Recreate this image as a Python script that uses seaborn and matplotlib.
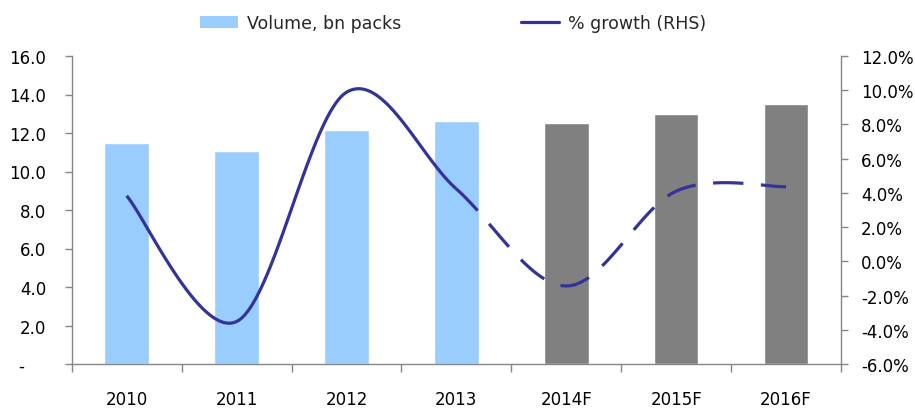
import numpy as np
import pandas as pd
import matplotlib
matplotlib.use("Agg")
import matplotlib.pyplot as plt
from matplotlib.patches import Patch
from matplotlib.lines import Line2D
import seaborn as sns

years = ["2010", "2011", "2012", "2013", "2014F", "2015F", "2016F"]
volume = [11.48, 11.06, 12.16, 12.62, 12.52, 12.99, 13.50]
growth = [3.83, -3.52, 9.88, 4.23, -1.44, 4.10, 4.36]
kind = ["Actual", "Actual", "Actual", "Actual", "Forecast", "Forecast", "Forecast"]
left_ticks = [0, 2, 4, 6, 8, 10, 12, 14, 16]
left_labels = ["-    ", "2.0", "4.0", "6.0", "8.0", "10.0", "12.0", "14.0", "16.0"]
right_ticks = [-6, -4, -2, 0, 2, 4, 6, 8, 10, 12]
right_labels = ["-6.0%", "-4.0%", "-2.0%", "0.0%", "2.0%", "4.0%", "6.0%", "8.0%", "10.0%", "12.0%"]

BLUE = "#99CCFF"
GREY = "#808080"
NAVY = "#333399"
SPINE = "#868686"
FS = 12

sns.set_theme(style="white")
plt.rcParams["font.family"] = ["DejaVu Sans"]
plt.rcParams["path.simplify"] = False

df = pd.DataFrame({"year": years, "volume": volume, "kind": kind})

fig = plt.figure(figsize=(9.15, 4.14), dpi=100)
L0, R0, B0, T0 = 71.7 / 915, 841 / 915, 1 - 365 / 414, 1 - 57 / 414
ax = fig.add_axes([L0, B0, R0 - L0, T0 - B0])

sns.barplot(data=df, x="year", y="volume", hue="kind",
            palette={"Actual": BLUE, "Forecast": GREY},
            dodge=False, width=0.405, legend=False, ax=ax, saturation=1)
ax.set_xlim(-0.5, 6.5)
ax.set_ylim(0, 16)
ax.set_yticks(left_ticks)
ax.set_yticklabels(left_labels)
ax.set_xlabel("")
ax.set_ylabel("")

# smoothed line (Catmull-Rom Bezier through the data points, like Excel's smoothing)
g = np.array(growth, dtype=float)
n = len(g)
P = np.column_stack([np.arange(n, dtype=float), g])
Pext = np.vstack([P[0], P, P[-1]])
T = Pext[2:] - Pext[:-2]
curve = []
for i in range(n - 1):
    c1 = P[i] + T[i] / 6
    c2 = P[i + 1] - T[i + 1] / 6
    t = np.linspace(0, 1, 40, endpoint=(i == n - 2))[:, None]
    b = ((1 - t) ** 3) * P[i] + 3 * ((1 - t) ** 2) * t * c1 + 3 * (1 - t) * t ** 2 * c2 + t ** 3 * P[i + 1]
    curve.append(b)
curve = np.vstack(curve)
cx = curve[:, 0]
cy = curve[:, 1]

ax2 = ax.twinx()
solid = cx <= 3.0 + 1e-9
dashed = cx >= 3.0 - 1e-9
sns.lineplot(x=cx[solid], y=cy[solid], sort=False, estimator=None, ax=ax2,
             color=NAVY, linewidth=2.3, solid_capstyle="butt")
sns.lineplot(x=cx[dashed], y=cy[dashed], sort=False, estimator=None, ax=ax2,
             color=NAVY, linewidth=2.3, linestyle=(0, (9.5, 5.5)), dash_capstyle="butt")
ax2.set_xlim(-0.5, 6.5)
ax2.set_ylim(-6, 12)
ax2.set_yticks(right_ticks)
ax2.set_yticklabels(right_labels)
ax2.set_ylabel("")

for a in (ax, ax2):
    for s in a.spines.values():
        s.set_color(SPINE)
        s.set_linewidth(1.0)
    a.spines["top"].set_visible(False)
    a.grid(False)

ax.spines["right"].set_visible(False)
ax2.spines["left"].set_visible(False)
ax2.spines["bottom"].set_visible(False)

ax.tick_params(axis="y", which="major", left=True, length=5, width=1, color=SPINE,
               pad=13.5, labelsize=FS, labelcolor="black")
ax2.tick_params(axis="y", which="major", right=True, length=5, width=1, color=SPINE,
                pad=9.5, labelsize=FS, labelcolor="black")
ax.set_xticks(np.arange(-0.5, 7.0, 1.0), minor=True)
ax.tick_params(axis="x", which="minor", bottom=True, length=6, width=1, color=SPINE)
ax.tick_params(axis="x", which="major", bottom=False, length=0, pad=19,
               labelsize=FS, labelcolor="black")

handles = [Patch(facecolor=BLUE, edgecolor="none"),
           Line2D([0], [0], color=NAVY, linewidth=2.3)]
fig.legend(handles, ["Volume, bn packs", "% growth (RHS)"], loc="center",
           bbox_to_anchor=(0.495, 0.942), ncol=2, frameon=False,
           fontsize=12.5, columnspacing=6.9, handlelength=2.2, handletextpad=0.5,
           borderpad=0.0)

fig.savefig("out.png", dpi=100)
